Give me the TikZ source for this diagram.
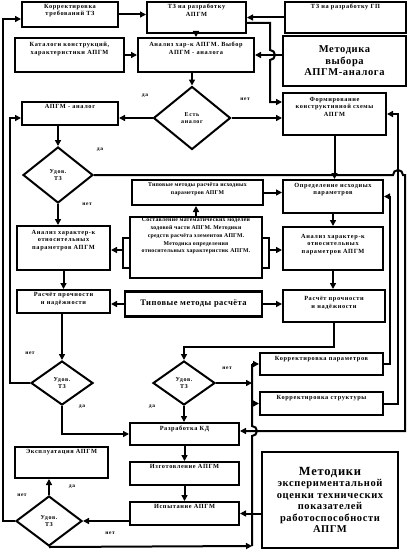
\documentclass[tikz,border=0pt]{standalone}
\usepackage{fontspec}
\setmainfont{Liberation Serif}
\newfontfamily\lsf[LetterSpace=10]{Liberation Serif}
\newfontfamily\msf[LetterSpace=4]{Liberation Serif}
\newfontfamily\bsf[LetterSpace=6]{Liberation Serif}
\usetikzlibrary{arrows.meta,shapes.geometric,calc}
\newcommand{\bxt}[4]{\parbox[c][#2][t]{#1}{\centering\vspace*{#3}#4\par}}
\tikzset{
 bx/.style={draw, line width=2pt, inner sep=0pt, fill=white, font=\lsf\bfseries\fontsize{6.3}{7.8}\selectfont},
 bxs/.style={bx, font=\msf\bfseries\fontsize{5.8}{7.7}\selectfont},
 bbx/.style={draw, line width=2.8pt, inner sep=0pt, align=center, font=\bsf\bfseries\fontsize{10.5}{11.5}\selectfont},
 dm/.style={draw, diamond, line width=2pt, inner sep=0pt, align=center, font=\lsf\bfseries\fontsize{6}{7.5}\selectfont},
 ln/.style={line width=2pt},
 ar/.style={line width=2pt, -{Triangle[length=6pt,width=6pt]}},
 lb/.style={font=\lsf\bfseries\fontsize{5.5}{6}\selectfont, inner sep=0pt},
}
\begin{document}
\begin{tikzpicture}[x=1pt,y=-1pt]
\useasboundingbox (0,0) rectangle (409,551);
% boxes
\node[bx] (korrtz) at (70,14.5) {\bxt{96pt}{25pt}{2pt}{Корректировка\\требований ТЗ}};
\node[bx] (tzapgm) at (196.5,17.5) {\bxt{99pt}{31pt}{2pt}{ТЗ на разработку\\АПГМ}};
\node[bx] (tzgp) at (345.5,17.5) {\bxt{121pt}{31pt}{2pt}{ТЗ на разработку ГП}};
\node[bx] (katalog) at (69.5,55) {\bxt{109pt}{34pt}{4pt}{Каталоги конструкций,\\характеристики АПГМ}};
\node[bx] (analiz) at (196,55) {\bxt{116pt}{34pt}{4pt}{Анализ хар-к АПГМ. Выбор\\АПГМ - аналога}};
\node[bbx, minimum width=123pt, minimum height=50pt] (metvyb) at (344.5,61) {Методика\\выбора\\АПГМ-аналога};
\node[dm, minimum width=77pt, minimum height=63pt] (est) at (192,118) {Есть\\аналог};
\node[bx] (analog) at (70,113.5) {\bxt{96pt}{23pt}{2pt}{АПГМ - аналог}};
\node[bx] (form) at (334.5,114) {\bxt{103pt}{42pt}{4pt}{Формирование\\конструктивной схемы\\АПГМ}};
\node[dm, minimum width=70pt, minimum height=56pt] (ud1) at (58,175) {Удов.\\ТЗ};
\node[bxs] (tipisx) at (197.5,192.5) {\bxt{131pt}{25pt}{3pt}{Типовые методы расчёта исходных\\параметров АПГМ}};
\node[bx] (opr) at (333,196.5) {\bxt{100pt}{33pt}{3pt}{Определение исходных\\параметров}};
\node[bxs] (stat) at (196,247.5) {\bxt{132pt}{61pt}{1pt}{Составление математических моделей\\ходовой части АПГМ. Методики\\средств расчёта элементов АПГМ.\\Методика определения\\относительных характеристик АПГМ.}};
\node[bx] (anl) at (63.5,248) {\bxt{93pt}{44pt}{4pt}{Анализ характер-к\\относительных\\параметров АПГМ}};
\node[bx] (anr) at (333,248.5) {\bxt{100pt}{43pt}{7pt}{Анализ характер-к\\относительных\\параметров АПГМ}};
\node[bx] (rasl) at (63.5,301.5) {\bxt{93pt}{23pt}{2pt}{Расчёт прочности\\и надёжности}};
\node[bbx, line width=2.4pt, font=\bsf\bfseries\fontsize{8.5}{10}\selectfont, minimum width=137pt, minimum height=25pt] (tipm) at (193.5,304) {Типовые методы расчёта};
\node[bx] (rasr) at (334,306) {\bxt{102pt}{32pt}{6pt}{Расчёт прочности\\и надёжности}};
\node[dm, minimum width=62pt, minimum height=44pt] (ud2l) at (62,383) {Удов.\\ТЗ};
\node[dm, minimum width=62pt, minimum height=44pt] (ud2m) at (184,383) {Удов.\\ТЗ};
\node[bx] (korrp) at (321.5,364) {\bxt{123pt}{22pt}{3pt}{Корректировка параметров}};
\node[bx] (korrs) at (321.5,403.5) {\bxt{123pt}{23pt}{3pt}{Корректировка структуры}};
\node[bx] (razr) at (184.5,434) {\bxt{109pt}{22pt}{3pt}{Разработка КД}};
\node[bx] (izg) at (184.5,473.5) {\bxt{109pt}{23pt}{2pt}{Изготовление АПГМ}};
\node[bx] (isp) at (184.5,513.5) {\bxt{109pt}{23pt}{2pt}{Испытание АПГМ}};
\node[bx] (expl) at (61.5,462.5) {\bxt{93pt}{31pt}{2pt}{Эксплуатация АПГМ}};
\node[dm, minimum width=66pt, minimum height=50pt] (ud3) at (49,521) {Удов.\\ТЗ};
\node[bbx, minimum width=136pt, minimum height=96pt] (metexp) at (330,500) {{\fontsize{12.5}{13}\selectfont Методики}\\экспериментальной\\оценки технических\\показателей\\работоспособности\\АПГМ};
% labels
\node[lb] (l1) at (145,96) {да};
\node[lb] (l2) at (245,99) {нет};
\node[lb] (l3) at (100,150) {да};
\node[lb] (l4) at (87,204) {нет};
\node[lb] (l5) at (30,353) {нет};
\node[lb] (l6) at (82,407) {да};
\node[lb] (l7) at (227,368) {нет};
\node[lb] (l8) at (152,407) {да};
\node[lb] (l9) at (22,495) {нет};
\node[lb] (l10) at (72,487) {да};
\node[lb] (l11) at (110,533) {нет};
% coordinates
\coordinate (c1) at (3,19);
\coordinate (c2) at (270,23);
\coordinate (c3) at (270,102);
\coordinate (c4) at (405,175);
\coordinate (c5) at (405,431);
\coordinate (c6) at (10,118);
\coordinate (bl1) at (123,238);
\coordinate (bl2) at (123,268);
\coordinate (br1) at (269,238);
\coordinate (br2) at (269,268);
\coordinate (sl) at (123,250);
\coordinate (sr) at (269,250);
\coordinate (bt) at (252,364);
\coordinate (bm) at (252,383);
\coordinate (bb) at (252,546);
\coordinate (rx1) at (390,0);
\coordinate (rx2) at (398,0);
% connectors
\draw[ar] (ud3.west) -| (c1) -- (korrtz.west |- c1);
\draw[ar] (korrtz.east) -- (tzapgm.west |- korrtz.east);
\draw[ar] (tzgp.west) -- (tzapgm.east);
\draw[ar] (tzapgm.south -| analiz.north) -- (analiz.north);
\draw[ar] (katalog.east) -- (analiz.west);
\draw[ar] (metvyb.west |- analiz.east) -- (analiz.east);
\draw[ar] (tzapgm.east |- c2) -- (c2) -- (270,50) arc[start angle=-90,end angle=90,radius=5] -- (c3) -- (form.west |- c3);
\draw[ar] (est.north |- analiz.south) -- (est.north);
\draw[ar] (est.west) -- (analog.east |- est.west);
\draw[ar] (est.east) -- (form.west |- est.east);
\draw[ar] (ud1.north |- analog.south) -- (ud1.north);
\draw[ar] (ud1.east) -- (393,175) arc[start angle=180,end angle=360,radius=5] -- (c4) -- (c5) -- (razr.east |- c5);
\draw[ar] (ud1.south) -- (ud1.south |- anl.north);
\draw[ar] (form.south) -- (form.south |- opr.north);
\draw[ar] (tipisx.east) -- (opr.west |- tipisx.east);
\draw[ar] (stat.north) -- (stat.north |- tipisx.south);
\draw[ln] (stat.west |- bl1) -- (bl1) -- (bl2) -- (stat.west |- bl2);
\draw[ln] (stat.east |- br1) -- (br1) -- (br2) -- (stat.east |- br2);
\draw[ar] (sl) -- (anl.east |- sl);
\draw[ar] (sr) -- (anr.west |- sr);
\draw[ar] (anl.south) -- (anl.south |- rasl.north);
\draw[ar] (opr.south) -- (opr.south |- anr.north);
\draw[ar] (anr.south) -- (anr.south |- rasr.north);
\draw[ar] (tipm.west) -- (rasl.east |- tipm.west);
\draw[ar] (tipm.east) -- (rasr.west |- tipm.east);
\draw[ar] (ud2l.north |- rasl.south) -- (ud2l.north);
\draw[ar] (ud2l.west) -| (c6) -- (analog.west |- c6);
\draw[ar] (ud2l.south) |- (razr.west);
\draw[ar] (rasr.south) -- ++(0,24) -| (ud2m.north);
\draw[ln] (bt) -- (252,426) arc[start angle=-90,end angle=90,radius=5] -- (bb);
\draw[ar] (bt) -- (korrp.west);
\draw[ar] (bt |- korrs.west) -- (korrs.west);
\draw[ar] (ud2m.east) -- (bm);
\draw[ar] (ud2m.south) -- (ud2m.south |- razr.north);
\draw[ar] (ud3.south) -- (bb);
\draw[ar] (razr.south) -- (izg.north);
\draw[ar] (izg.south) -- (isp.north);
\draw[ar] (isp.west |- ud3.east) -- (ud3.east);
\draw[ar] (ud3.north) -- (ud3.north |- expl.south);
\draw[ar] (metexp.west |- isp.east) -- (isp.east);
\draw[ar] (korrp.east) -- (korrp.east -| rx1) -- (rx1 |- opr.east) -- (opr.east);
\draw[ar] (korrs.east) -- (korrs.east -| rx2) -- (rx2 |- form.east) -- (form.east);
\end{tikzpicture}
\end{document}
